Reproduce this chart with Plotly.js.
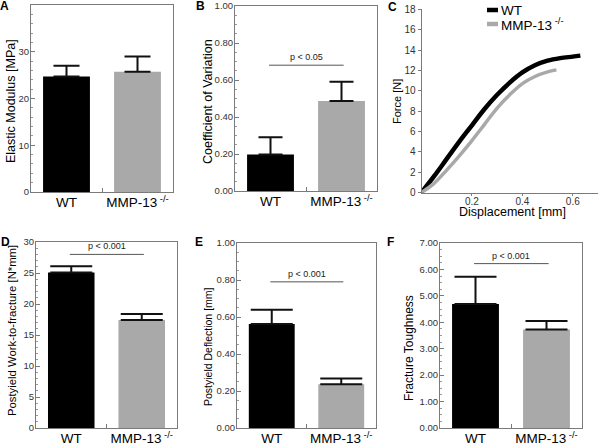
<!DOCTYPE html>
<html>
<head>
<meta charset="utf-8">
<script src="https://cdn.plot.ly/plotly-3.0.1.min.js"></script>
<style>html,body{margin:0;padding:0;background:#fff}#chart{width:600px;height:445px}</style>
</head>
<body>
<div id="chart"></div>
<script>
// ---------- data ----------
const categories = ['WT', 'MMP-13<sup> -/-</sup>'];
const elasticModulus = [24.7, 25.7];
const elasticModulusErr = [2.3, 3.3];
const coefVariation = [0.197, 0.487];
const coefVariationErr = [0.093, 0.104];
const workToFracture = [25.1, 17.4];
const workToFractureErr = [1.0, 1.0];
const deflection = [0.562, 0.237];
const deflectionErr = [0.077, 0.03];
const toughness = [4.69, 3.73];
const toughnessErr = [1.03, 0.32];

const dispWT = [0, 0.05, 0.1, 0.15, 0.2, 0.25, 0.3, 0.35, 0.4, 0.45, 0.5, 0.55, 0.6, 0.63];
const forceWT = [0, 1.6, 3.3, 5.0, 6.6, 8.2, 9.6, 10.8, 11.8, 12.5, 12.95, 13.2, 13.35, 13.45];
const dispKO = [0, 0.05, 0.1, 0.15, 0.2, 0.25, 0.3, 0.35, 0.4, 0.45, 0.5, 0.535];
const forceKO = [0, 0.9, 2.2, 3.6, 5.1, 6.7, 8.3, 9.6, 10.7, 11.4, 11.85, 12.05];

const pTexts = ['p < 0.05', 'p < 0.001', 'p < 0.001', 'p < 0.001'];
const pLevels = [0.68, 28.0, 0.79, 6.22];

const barColors = ['#000000', '#a9a9a9'];
const FONT = '"Liberation Sans", Arial, Helvetica, sans-serif';
const W = 600, H = 445;
const px = v => v / W;
const py = v => 1 - v / H;

function barTrace(vals, errs, ax, capw) {
  return {
    type: 'bar', x: categories, y: vals, width: 0.66,
    marker: {color: barColors, line: {width: 0}},
    error_y: {type: 'data', array: errs, symmetric: false, arrayminus: [0, 0],
              color: '#111', thickness: 2, width: capw},
    xaxis: 'x' + ax, yaxis: 'y' + ax, showlegend: false, hoverinfo: 'skip'
  };
}

const data = [
  barTrace(elasticModulus, elasticModulusErr, '', 13),
  barTrace(coefVariation, coefVariationErr, '2', 12),
  {type: 'scatter', mode: 'lines', x: dispWT, y: forceWT, line: {color: '#000', width: 4.5, shape: 'spline'},
   xaxis: 'x3', yaxis: 'y3', showlegend: false},
  {type: 'scatter', mode: 'lines', x: dispKO, y: forceKO, line: {color: '#a9a9a9', width: 3.5, shape: 'spline'},
   xaxis: 'x3', yaxis: 'y3', showlegend: false},
  barTrace(workToFracture, workToFractureErr, '4', 21),
  barTrace(deflection, deflectionErr, '5', 21),
  barTrace(toughness, toughnessErr, '6', 21)
];

function xBar(x0, x1, anchor) {
  return {domain: [px(x0), px(x1)], anchor: anchor, type: 'category', automargin: false, tickangle: 0,
    showline: true, mirror: true, linecolor: '#7a7a7a', linewidth: 1,
    ticks: 'inside', tickson: 'boundaries', ticklen: 4, tickcolor: '#7a7a7a', ticklabelstandoff: -2,
    tickfont: {family: FONT, size: 13.5, color: '#000'}, showgrid: false, zeroline: false};
}
function yBar(yTop, yBot, anchor, range, dtick, minor, fmt) {
  return {domain: [py(yBot), py(yTop)], anchor: anchor, range: range, dtick: dtick, tick0: 0, automargin: false,
    tickformat: fmt, showline: true, mirror: true, linecolor: '#7a7a7a', linewidth: 1,
    ticks: 'inside', ticklen: 4, tickcolor: '#7a7a7a', ticklabelstandoff: -1,
    minor: {ticks: 'inside', ticklen: 2, dtick: minor, tickcolor: '#9a9a9a', showgrid: false},
    tickfont: {family: FONT, size: 9.5, color: '#333'}, showgrid: false, zeroline: false};
}

const layout = {
  width: W, height: H, margin: {l: 0, r: 0, t: 0, b: 0},
  paper_bgcolor: '#fff', plot_bgcolor: '#fff', showlegend: false,
  font: {family: FONT},
  xaxis: xBar(31, 173, 'y'),
  yaxis: yBar(5, 192, 'x', [0, 40], 10, 2, 'd'),
  xaxis2: xBar(235, 377, 'y2'),
  yaxis2: yBar(6, 191, 'x2', [0, 1], 0.2, 0.05, '.2f'),
  xaxis3: {domain: [px(421.5), px(598)], anchor: 'y3', range: [0, 0.7], tickvals: [0.2, 0.4, 0.6], automargin: false,
    showline: true, linecolor: '#7a7a7a', ticks: 'outside', ticklen: 2, tickcolor: '#7a7a7a', ticklabelstandoff: -3,
    tickfont: {family: FONT, size: 10, color: '#333'}, showgrid: false, zeroline: false},
  yaxis3: {domain: [py(192.5), py(9.3)], anchor: 'x3', range: [0, 18], dtick: 2, automargin: false,
    showline: true, linecolor: '#7a7a7a', ticks: 'outside', ticklen: 3, tickcolor: '#7a7a7a',
    tickfont: {family: FONT, size: 10, color: '#333'}, showgrid: false, zeroline: false},
  xaxis4: xBar(36, 177, 'y4'),
  yaxis4: yBar(242, 428, 'x4', [0, 30], 5, 1, 'd'),
  xaxis5: xBar(237, 376, 'y5'),
  yaxis5: yBar(243, 428, 'x5', [0, 1], 0.2, 0.05, '.2f'),
  xaxis6: xBar(440, 582, 'y6'),
  yaxis6: yBar(243, 428, 'x6', [0, 7], 1, 0.25, '.2f'),
  shapes: [],
  annotations: []
};

// significance bars
const sigAxes = ['2', '4', '5', '6'];
sigAxes.forEach((a, i) => {
  layout.shapes.push({type: 'line', xref: 'x' + a, yref: 'y' + a, x0: -0.02, x1: 1.03,
    y0: pLevels[i], y1: pLevels[i], line: {color: '#555', width: 1}});
  layout.annotations.push({xref: 'x' + a, yref: 'y' + a, x: 0.5, y: pLevels[i], text: pTexts[i],
    showarrow: false, yanchor: 'bottom', yshift: 1, font: {family: FONT, size: 9, color: '#222'}});
});

// axis titles
function yTitle(text, x, y, size) {
  layout.annotations.push({xref: 'paper', yref: 'paper', x: px(x), y: py(y), text: text, textangle: -90,
    showarrow: false, xanchor: 'center', yanchor: 'middle', font: {family: FONT, size: size, color: '#000'}});
}
yTitle('Elastic Modulus [MPa]', 11, 101, 12.5);
yTitle('Coefficient of Variation', 208, 102, 12.5);
yTitle('Force [N]', 397, 102, 11);
yTitle('Postyield Work-to-fracture [N*mm]', 12, 331, 11.3);
yTitle('Postyield Deflection [mm]', 208, 347, 10.5);
yTitle('Fracture Toughness', 409, 348, 12);
layout.annotations.push({xref: 'paper', yref: 'paper', x: px(512), y: py(212), text: 'Displacement [mm]',
  showarrow: false, xanchor: 'center', yanchor: 'middle', font: {family: FONT, size: 12.5, color: '#000'}});

// panel letters
const letters = [['A', 4, 6], ['B', 200, 6], ['C', 392, 7], ['D', 5, 242], ['E', 199, 242], ['F', 391, 242]];
letters.forEach(l => layout.annotations.push({xref: 'paper', yref: 'paper', x: px(l[1]), y: py(l[2]),
  text: '<b>' + l[0] + '</b>', showarrow: false, xanchor: 'center', yanchor: 'middle',
  font: {family: FONT, size: 12, color: '#000'}}));

// legend for panel C
const legendNames = ['WT', 'MMP-13<sup> -/-</sup>'];
const legendColors = ['#000', '#a9a9a9'];
const legendY = [10, 24];
legendNames.forEach((n, i) => {
  layout.shapes.push({type: 'line', xref: 'paper', yref: 'paper', x0: px(487), x1: px(498),
    y0: py(legendY[i]), y1: py(legendY[i]), line: {color: legendColors[i], width: 4.5}});
  layout.annotations.push({xref: 'paper', yref: 'paper', x: px(499), y: py(legendY[i]), text: n,
    showarrow: false, xanchor: 'left', yanchor: 'middle', font: {family: FONT, size: 13.5, color: '#000'}});
});

Plotly.newPlot('chart', data, layout, {staticPlot: true, displayModeBar: false});
</script>
</body>
</html>
